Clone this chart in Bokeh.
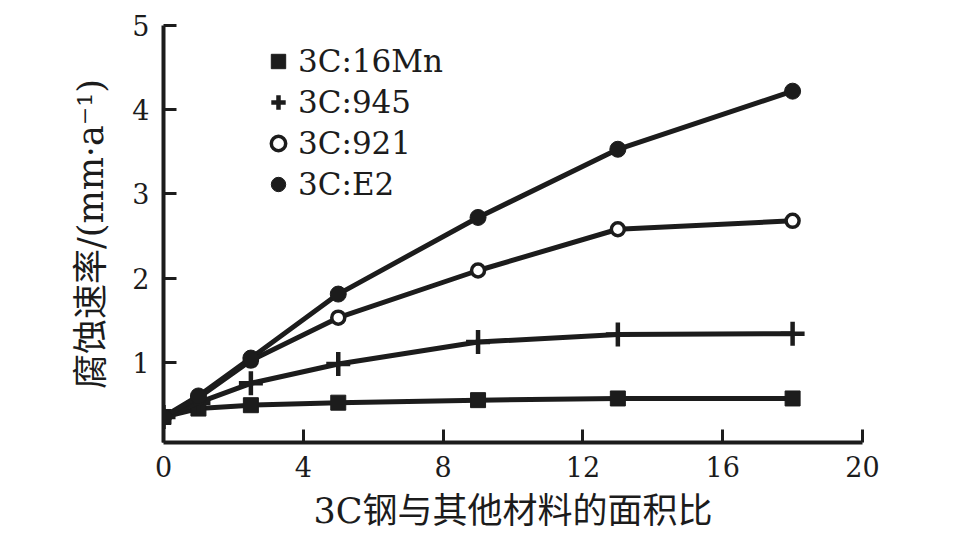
from bokeh.plotting import figure
from bokeh.models import Range1d, FixedTicker, Legend, LegendItem
from bokeh.embed import file_html
from bokeh.resources import INLINE

# ---- data ----
area_ratio = [0, 1, 2.5, 5, 9, 13, 18]
rate_16mn = [0.35, 0.45, 0.49, 0.52, 0.55, 0.57, 0.57]
rate_945 = [0.35, 0.52, 0.75, 0.98, 1.24, 1.33, 1.34]
rate_921 = [0.35, 0.58, 1.02, 1.53, 2.09, 2.58, 2.68]
rate_e2 = [0.35, 0.60, 1.05, 1.81, 2.72, 3.53, 4.22]
series_labels = ["3C:16Mn", "3C:945", "3C:921", "3C:E2"]
x_ticks = [0, 4, 8, 12, 16, 20]
y_ticks = [1, 2, 3, 4, 5]
x_title = "3C钢与其他材料的面积比"
y_title = "腐蚀速率/(mm·a⁻¹)"

INK = "#1c1c1c"
SERIF = "DejaVu Serif"
MIXED = "'DejaVu Serif', 'Noto Sans CJK SC'"

p = figure(width=967, height=533, output_backend="svg", toolbar_location=None,
           x_range=Range1d(0, 20), y_range=Range1d(0.047, 5),
           min_border_left=163, min_border_right=105, min_border_top=25, min_border_bottom=87)
p.outline_line_color = None
p.xgrid.visible = False
p.ygrid.visible = False
p.background_fill_color = "white"

for ax in (p.xaxis[0], p.yaxis[0]):
    ax.axis_line_color = INK
    ax.axis_line_width = 4
    ax.major_tick_line_color = INK
    ax.major_tick_line_width = 3
    ax.major_tick_in = 13
    ax.major_tick_out = 0
    ax.minor_tick_line_color = None
    ax.major_label_text_font = SERIF
    ax.major_label_text_font_size = "27px"
    ax.major_label_text_color = INK
    ax.axis_label_text_font = MIXED
    ax.axis_label_text_font_size = "35px"
    ax.axis_label_text_font_style = "normal"
    ax.axis_label_text_color = INK

p.xaxis.ticker = FixedTicker(ticks=x_ticks)
p.yaxis.ticker = FixedTicker(ticks=y_ticks)
p.xaxis.axis_label = x_title
p.yaxis.axis_label = y_title
p.xaxis.major_label_standoff = 13
p.xaxis.axis_label_standoff = 11
p.yaxis.major_label_standoff = 14
p.yaxis.axis_label_standoff = 18

series = [rate_16mn, rate_945, rate_921, rate_e2]
markers = ["square", "cross", "circle", "circle"]
sizes = [15, 24, 13, 16]
fills = [INK, INK, "white", INK]
mlw = [1, 4.5, 3.5, 1]

items = []
for ys, mk, sz, fc, lw, lab in zip(series, markers, sizes, fills, mlw, series_labels):
    p.line(area_ratio, ys, line_color=INK, line_width=5)
    r = p.scatter(area_ratio, ys, marker=mk, size=sz, fill_color=fc,
                  line_color=INK, line_width=lw)
    items.append(LegendItem(label=lab, renderers=[r]))

legend = Legend(items=items, location=(97, 238), border_line_color=None,
                background_fill_alpha=0, label_text_font=SERIF,
                label_text_font_size="31px", label_text_color=INK,
                glyph_width=36, glyph_height=40, label_height=40,
                spacing=1, padding=0, margin=0, label_standoff=2)
p.add_layout(legend)

open("out.html", "w").write(file_html(p, INLINE))
